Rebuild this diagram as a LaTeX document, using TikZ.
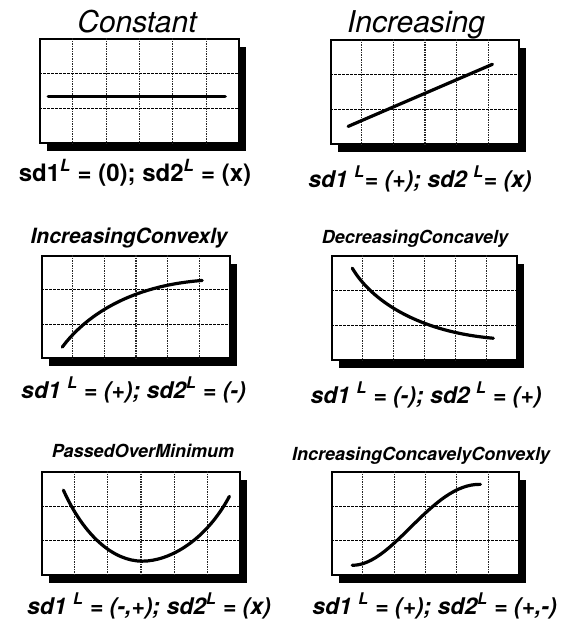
\documentclass[tikz,border=0pt]{standalone}
\usepackage{fontspec}
\setmainfont{TeX Gyre Heros}
\usetikzlibrary{positioning, calc, shadows}

\begin{document}
\begin{tikzpicture}[
        x=1pt, y=-1pt,
        % Define styles for the panels
        plotbox/.style={rectangle, draw=black, line width=1.4pt, fill=white, inner sep=0pt,
            drop shadow={shadow xshift=7pt, shadow yshift=-8pt, fill=black, opacity=1}},
        vgrid/.style={black!85, line width=1.1pt, dash pattern=on 1.3pt off 1.2pt},
        hgrid/.style={black, line width=1.1pt, dash pattern=on 2.5pt off 1.5pt},
        curve/.style={line width=3.2pt, line cap=round},
        bigtitle/.style={anchor=base, font=\fontsize{30}{34}\selectfont\itshape},
        smalltitle/.style={anchor=base, font=\fontsize{18}{21}\selectfont\bfseries\itshape},
        sdlabel/.style={anchor=base, font=\fontsize{23}{26}\selectfont\bfseries\itshape}
    ]
        \useasboundingbox (0,0) rectangle (563,624);

        % --- Panels ---
        \node[plotbox, minimum width=199pt, minimum height=104pt] (constbox) at (139.5,91) {};
        \node[plotbox, minimum width=188pt, minimum height=104pt] (incbox) at (425,92) {};
        \node[plotbox, minimum width=188pt, minimum height=102pt] (convbox) at (136,307) {};
        \node[plotbox, minimum width=185pt, minimum height=104pt] (concbox) at (424.5,308) {};
        \node[plotbox, minimum width=198pt, minimum height=103pt] (minbox) at (141,523.5) {};
        \node[plotbox, minimum width=187pt, minimum height=103pt] (sbox) at (425.5,523.5) {};

        % --- Grids ---
        \foreach \b in {constbox, incbox, convbox, concbox, minbox, sbox} {
            \foreach \i in {1,...,5}
                \draw[vgrid] ($(\b.north west)!\i/6!(\b.north east)$) -- ($(\b.south west)!\i/6!(\b.south east)$);
            \foreach \j in {1,2}
                \draw[hgrid] ($(\b.north west)!\j/3!(\b.south west)$) -- ($(\b.north east)!\j/3!(\b.south east)$);
        }

        % --- Curves ---
        \begin{scope}[shift={(constbox.north west)}, x=33.2pt, y=-34.7pt]
            \draw[curve] (0.27,1.67) -- (5.6,1.67);
        \end{scope}
        \begin{scope}[shift={(incbox.north west)}, x=31.3pt, y=-34.7pt]
            \draw[curve] (0.57,2.51) -- (5.18,0.72);
        \end{scope}
        \begin{scope}[shift={(convbox.north west)}, x=31.3pt, y=-34pt]
            \draw[curve] (0.67,2.7) .. controls (1.4,1.8) and (2.8,0.9) .. (5.14,0.74);
        \end{scope}
        \begin{scope}[shift={(concbox.north west)}, x=30.8pt, y=-34.7pt]
            \draw[curve] (0.68,0.37) .. controls (1.3,1.3) and (2.8,2.2) .. (5.26,2.39);
        \end{scope}
        \begin{scope}[shift={(minbox.north west)}, x=33pt, y=-34.3pt]
            \draw[curve] (0.67,0.55) .. controls (1.3,1.9) and (2.2,2.62) .. (3.06,2.62)
                .. controls (3.9,2.62) and (5.0,2.0) .. (5.7,0.73);
        \end{scope}
        \begin{scope}[shift={(sbox.north west)}, x=31.2pt, y=-34.3pt]
            \draw[curve] (0.67,2.74) .. controls (2.0,2.75) and (3.2,0.35) .. (4.78,0.38);
        \end{scope}

        % --- Titles ---
        \node[bigtitle] (consttitle) at (137,32) {Constant};
        \node[bigtitle] (inctitle) at (416,32) {Increasing};
        \node[smalltitle, font=\fontsize{21}{24}\selectfont\bfseries\itshape] (convtitle) at (129,243) {IncreasingConvexly};
        \node[smalltitle] (conctitle) at (415,243) {DecreasingConcavely};
        \node[smalltitle] (mintitle) at (143,457) {PassedOverMinimum};
        \node[smalltitle] (stitle) at (421,460) {IncreasingConcavelyConvexly};

        % --- Labels ---
        \node[sdlabel, font=\fontsize{24}{27}\selectfont\bfseries] (constlabel) at (135,181)
            {sd1\textsuperscript{\textit{L}} = (0); sd2\textsuperscript{\textit{L}} = (x)};
        \node[sdlabel] (inclabel) at (420,187) {sd1 \textsuperscript{L}= (+); sd2 \textsuperscript{L}= (x)};
        \node[sdlabel] (convlabel) at (133.5,398) {sd1 \textsuperscript{L} = (+); sd2\textsuperscript{L} = (-)};
        \node[sdlabel] (conclabel) at (426,403) {sd1 \textsuperscript{L} = (-); sd2 \textsuperscript{L} = (+)};
        \node[sdlabel] (minlabel) at (149,614) {sd1 \textsuperscript{L} = (-,+); sd2\textsuperscript{L} = (x)};
        \node[sdlabel] (slabel) at (434.5,614) {sd1 \textsuperscript{L} = (+); sd2\textsuperscript{L} = (+,-)};

    \end{tikzpicture}
\end{document}
